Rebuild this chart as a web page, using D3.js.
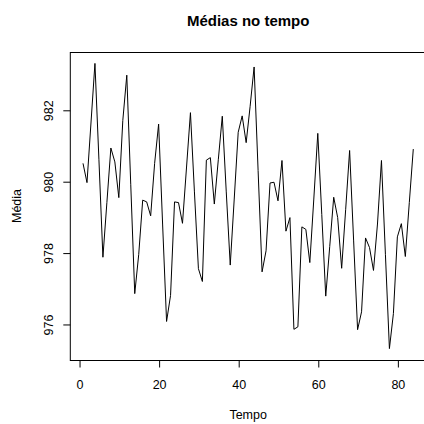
<!DOCTYPE html>
<html>
<head>
<meta charset="utf-8">
<script src="https://cdn.jsdelivr.net/npm/d3@7"></script>
<style>
  html, body { margin: 0; padding: 0; background: #fff; }
  svg { display: block; }
  text { font-family: "Liberation Sans", Arial, Helvetica, sans-serif; fill: #000; }
</style>
</head>
<body>
<script>
const title = "Médias no tempo";
const xLabel = "Tempo";
const yLabel = "Média";
const xTicks = [0, 20, 40, 60, 80];
const yTicks = [976, 978, 980, 982];
const tempo = d3.range(1, 85);
const media = [
  980.50, 979.96, 981.63, 983.30, 980.60, 977.87, 979.40, 980.93, 980.54, 979.54,
  981.70, 982.97, 979.90, 976.85, 977.95, 979.47, 979.42, 979.03, 980.50, 981.60,
  978.80, 976.07, 976.80, 979.42, 979.40, 978.82, 980.37, 981.92, 979.70, 977.55,
  977.19, 980.59, 980.66, 979.36, 980.60, 981.82, 979.70, 977.65, 979.50, 981.37,
  981.83, 981.08, 982.10, 983.20, 980.30, 977.46, 978.05, 979.95, 979.97, 979.45,
  980.58, 978.60, 978.98, 975.85, 975.92, 978.72, 978.65, 977.72, 979.50, 981.34,
  979.07, 976.78, 978.17, 979.55, 978.98, 977.56, 979.20, 980.86, 978.35, 975.84,
  976.34, 978.41, 978.14, 977.50, 978.80, 980.58, 977.94, 975.31, 976.29, 978.44,
  978.81, 977.89, 979.40, 980.90
];

(function () {
const W = 424, H = 424;
const pL = 69.8, pR = 426.5, pT = 52, pB = 360;

const svg = d3.select("body").append("svg")
  .attr("width", W).attr("height", H)
  .style("overflow", "hidden");

const xe = d3.extent(tempo), ye = d3.extent(media);
const xPad = 0.04 * (xe[1] - xe[0]), yPad = 0.04 * (ye[1] - ye[0]);
const x = d3.scaleLinear().domain([xe[0] - xPad, xe[1] + xPad]).range([pL, pR]);
const y = d3.scaleLinear().domain([ye[0] - yPad, ye[1] + yPad]).range([pB, pT]);

// line
const line = d3.line().x((d, i) => x(tempo[i])).y(d => y(d));
svg.append("path").datum(media)
  .attr("d", line)
  .attr("fill", "none")
  .attr("stroke", "#000")
  .attr("stroke-width", 1)
  .attr("stroke-linejoin", "miter");

// box
svg.append("rect")
  .attr("x", pL + 0.5).attr("y", pT + 0.5)
  .attr("width", pR - pL).attr("height", pB - pT)
  .attr("fill", "none").attr("stroke", "#000").attr("stroke-width", 1);

// x axis
const xAxis = d3.axisBottom(x).tickValues(xTicks).tickSize(7).tickSizeOuter(0).tickPadding(13);
const gx = svg.append("g").attr("transform", `translate(0.5,${pB + 0.5})`).call(xAxis);
gx.select(".domain").remove();
gx.selectAll("line").attr("stroke", "#000");
gx.selectAll("text").attr("font-size", 12.5).attr("font-family", null).attr("fill", "#000");

// y axis
const yAxis = d3.axisLeft(y).tickValues(yTicks).tickSize(7).tickSizeOuter(0);
const gy = svg.append("g").attr("transform", `translate(${pL + 0.5},0.5)`).call(yAxis);
gy.select(".domain").remove();
gy.selectAll("line").attr("stroke", "#000");
gy.selectAll("text")
  .attr("font-size", 12.5).attr("font-family", null).attr("fill", "#000")
  .attr("x", null).attr("dy", null)
  .attr("text-anchor", "middle")
  .attr("transform", `translate(${52 - pL},0) rotate(-90)`);

// title & labels
svg.append("text")
  .attr("x", (pL + pR) / 2).attr("y", 26)
  .attr("text-anchor", "middle")
  .attr("font-size", 15).attr("font-weight", "bold")
  .text(title);

svg.append("text")
  .attr("x", (pL + pR) / 2).attr("y", 419)
  .attr("text-anchor", "middle")
  .attr("font-size", 12.5)
  .text(xLabel);

svg.append("text")
  .attr("transform", `translate(21,${(pT + pB) / 2}) rotate(-90)`)
  .attr("text-anchor", "middle")
  .attr("font-size", 12.5)
  .text(yLabel);
})();
</script>
</body>
</html>
